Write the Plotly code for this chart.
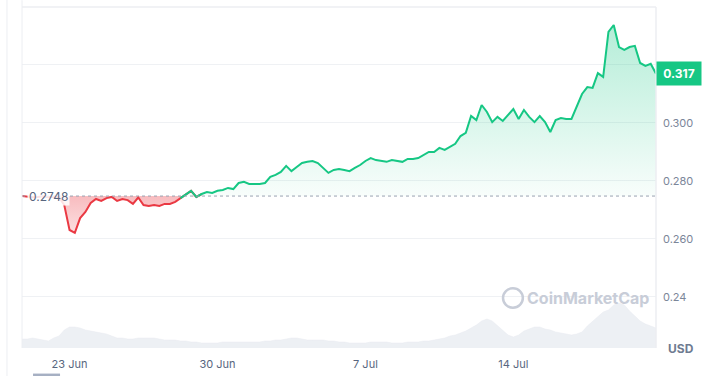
import pandas as pd
import plotly.graph_objects as go

# ---------------- data ----------------
start_time = "2024-06-20 18:00"
step = "6h"
price = [
    0.2748, 0.2746, 0.2744, 0.2745, 0.2747, 0.2744, 0.2746, 0.2743, 0.2717, 0.2631,
    0.2621, 0.2672, 0.2693, 0.2724, 0.2738, 0.2731, 0.2741, 0.2745, 0.2731, 0.2738,
    0.2734, 0.2721, 0.2743, 0.2717, 0.2714, 0.2717, 0.2714, 0.2721, 0.2721, 0.2728,
    0.2741, 0.2752, 0.2766, 0.2745, 0.2755, 0.2762, 0.2759, 0.2766, 0.2769, 0.2776,
    0.2772, 0.2793, 0.2797, 0.2790, 0.2790, 0.2790, 0.2793, 0.2814, 0.2821, 0.2831,
    0.2852, 0.2834, 0.2848, 0.2862, 0.2866, 0.2869, 0.2862, 0.2845, 0.2828, 0.2838,
    0.2841, 0.2838, 0.2834, 0.2845, 0.2855, 0.2869, 0.2879, 0.2872, 0.2869, 0.2866,
    0.2872, 0.2869, 0.2866, 0.2876, 0.2876, 0.2879, 0.2890, 0.2900, 0.2900, 0.2914,
    0.2907, 0.2917, 0.2928, 0.2955, 0.2966, 0.3024, 0.3010, 0.3062, 0.3038, 0.3003,
    0.3021, 0.3007, 0.3028, 0.3048, 0.3014, 0.3045, 0.3021, 0.3003, 0.3024, 0.3003,
    0.2969, 0.3010, 0.3017, 0.3014, 0.3014, 0.3059, 0.3100, 0.3124, 0.3121, 0.3172,
    0.3159, 0.3314, 0.3338, 0.3262, 0.3252, 0.3262, 0.3266, 0.3207, 0.3197, 0.3204,
    0.3170,
]
volume = [
    9, 9, 10, 9, 8, 7, 10, 12, 18, 21,
    21, 20, 18, 17, 16, 15, 14, 12, 10, 10,
    9, 9, 10, 10, 10, 10, 9, 8, 8, 8,
    7, 7, 6, 6, 5, 5, 5, 5, 6, 6,
    6, 6, 6, 6, 6, 6, 7, 7, 8, 8,
    9, 10, 10, 9, 8, 8, 8, 8, 7, 7,
    6, 6, 5, 5, 5, 5, 6, 6, 6, 6,
    5, 5, 5, 6, 6, 6, 7, 7, 8, 9,
    10, 12, 13, 15, 17, 20, 23, 27, 29, 27,
    22, 17, 13, 11, 13, 17, 19, 21, 21, 19,
    18, 16, 15, 14, 13, 14, 16, 22, 27, 32,
    36, 38, 43, 45, 43, 37, 32, 27, 24, 22,
    20,
]
baseline = 0.2748
last_price = 0.317
x_tick_dates = ["2024-06-23", "2024-06-30", "2024-07-07", "2024-07-14"]
x_tick_labels = ["23 Jun", "30 Jun", "7 Jul", "14 Jul"]
y_tick_vals = [0.24, 0.26, 0.28, 0.30, 0.32]
y_tick_labels = ["0.24", "0.260", "0.280", "0.300", ""]

# ---------------- build ----------------
GREEN = "#16c784"
RED = "#ea3943"
TEXT = "#58667e"
GRID = "#eff1f4"

t = pd.date_range(start_time, periods=len(price), freq=step)
n = len(price)
base = [baseline] * n
below_vals = [min(p, baseline) for p in price]
above_vals = [max(p, baseline) for p in price]

def segment(cond):
    out = []
    for i, p in enumerate(price):
        keep = cond(p) or (i > 0 and cond(price[i - 1])) or (i < n - 1 and cond(price[i + 1]))
        out.append(p if keep else None)
    return out

red_line = segment(lambda p: p <= baseline)
green_line = segment(lambda p: p > baseline)

fig = go.Figure()

# volume area (secondary axis)
fig.add_trace(go.Scatter(
    x=t, y=volume, yaxis="y2", mode="lines", fill="tozeroy",
    fillcolor="#edf0f4", line=dict(color="#e8ebf0", width=0.5),
    hoverinfo="skip", showlegend=False,
))

# red fill
fig.add_trace(go.Scatter(x=t, y=base, mode="lines", line=dict(width=0),
                         hoverinfo="skip", showlegend=False))
fig.add_trace(go.Scatter(
    x=t, y=below_vals, mode="lines", line=dict(width=0), fill="tonexty",
    fillgradient=dict(type="vertical",
                      colorscale=[[0, "rgba(234,57,67,0.16)"], [1, "rgba(234,57,67,0.34)"]]),
    hoverinfo="skip", showlegend=False,
))
# green fill
fig.add_trace(go.Scatter(x=t, y=base, mode="lines", line=dict(width=0),
                         hoverinfo="skip", showlegend=False))
fig.add_trace(go.Scatter(
    x=t, y=above_vals, mode="lines", line=dict(width=0), fill="tonexty",
    fillgradient=dict(type="vertical",
                      colorscale=[[0, "rgba(22,199,132,0.03)"], [1, "rgba(22,199,132,0.32)"]]),
    hoverinfo="skip", showlegend=False,
))

# lines
fig.add_trace(go.Scatter(x=t, y=red_line, mode="lines", line=dict(color=RED, width=2),
                         connectgaps=False, showlegend=False))
fig.add_trace(go.Scatter(x=t, y=green_line, mode="lines", line=dict(color=GREEN, width=2),
                         connectgaps=False, showlegend=False))

fig.update_layout(
    width=719, height=376,
    margin=dict(l=22, r=63, t=7, b=28),
    paper_bgcolor="white", plot_bgcolor="white",
    font=dict(family="Inter, Roboto, sans-serif", color=TEXT, size=11),
    xaxis=dict(
        range=[t[0], t[-1]], tickvals=pd.to_datetime(x_tick_dates), ticktext=x_tick_labels,
        showgrid=False, zeroline=False, showline=False, ticks="", ticklabelstandoff=8,
        automargin=False, tickfont=dict(size=11, color=TEXT),
    ),
    yaxis=dict(
        side="right", range=[0.2224, 0.340], tickvals=y_tick_vals, ticktext=y_tick_labels,
        showgrid=True, gridcolor=GRID, gridwidth=1, zeroline=False, showline=False,
        ticks="", ticklabelstandoff=6, automargin=False,
        tickfont=dict(size=11, color="#7b8699"),
    ),
    yaxis2=dict(overlaying="y", range=[0, 341], visible=False, automargin=False),
    shapes=[
        # baseline dotted
        dict(type="line", xref="x", yref="y", x0=t[0], x1=t[-1], y0=baseline, y1=baseline,
             line=dict(color="#9aa2b1", width=1, dash="dot")),
        # frame lines
        dict(type="line", xref="paper", yref="paper", x0=0, x1=0, y0=0, y1=1.02,
             line=dict(color="#eceef2", width=1)),
        dict(type="line", xref="paper", yref="paper", x0=1, x1=1, y0=0, y1=1,
             line=dict(color="#eceef2", width=1.5)),
        dict(type="line", xref="paper", yref="paper", x0=0, x1=1, y0=1, y1=1,
             line=dict(color="#eceef2", width=1.5)),
        dict(type="line", xref="paper", yref="paper", x0=-0.0237, x1=-0.0237, y0=-0.09, y1=1.03,
             line=dict(color="#eceef2", width=1)),
        # bottom small pill
        dict(type="rect", xref="paper", yref="paper", x0=0.0174, x1=0.06, y0=-0.095, y1=-0.075,
             fillcolor="#a6b0c3", line=dict(width=0), layer="above"),
        # watermark logo circle
        dict(type="circle", xref="paper", yref="paper", x0=0.7587, x1=0.790, y0=0.118, y1=0.175,
             line=dict(color="#c8cdd8", width=2.5)),
    ],
    annotations=[
        dict(xref="paper", yref="y", x=0.008, y=baseline, xanchor="left", yanchor="middle",
             text="0.2748", showarrow=False, bgcolor="rgba(255,255,255,0.85)",
             font=dict(size=12, color=TEXT), borderpad=1),
        dict(xref="paper", yref="y", x=1.0, y=last_price, xanchor="left", yanchor="middle",
             text="<b>0.317</b>", showarrow=False, bgcolor=GREEN, width=36, height=15,
             align="center", font=dict(size=12, color="white"), borderpad=4),
        dict(xref="paper", yref="paper", x=1.039, y=0.0, xanchor="center", yanchor="middle",
             text="<b>USD</b>", showarrow=False, font=dict(size=12, color="#6f7b91")),
        dict(xref="paper", yref="paper", x=0.893, y=0.1466, xanchor="center", yanchor="middle",
             text="<b>CoinMarketCap</b>", showarrow=False, font=dict(size=16, color="#c8cdd8")),
    ],
)

fig.write_html("out.html", config={"displayModeBar": False},
               post_script="document.body.style.margin='0';")
